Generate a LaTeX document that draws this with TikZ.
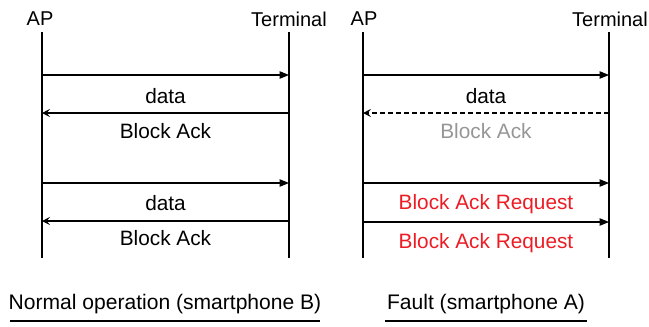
\documentclass[tikz,border=0pt]{standalone}
\usepackage{fontspec}
\setmainfont{Liberation Sans}
\usetikzlibrary{arrows.meta}
\definecolor{faultred}{RGB}{237,28,36}
\definecolor{lostgray}{RGB}{150,150,150}
\begin{document}
\begin{tikzpicture}[x=0.75pt,y=-0.75pt,
  head/.style={font=\fontsize{15}{18}\selectfont, inner sep=0pt},
  lbl/.style={font=\fontsize{15.6}{18}\selectfont, inner sep=0pt},
  life/.style={line width=0.8pt},
  msgr/.style={line width=0.8pt,-{Triangle[length=7pt,width=5.5pt]}},
  msgl/.style={line width=0.8pt,-{Stealth[length=6pt,width=6pt,inset=2.5pt]}},
  lost/.style={msgl,dashed,dash pattern=on 4pt off 2pt,line width=1pt},
  captext/.style={font=\fontsize{15.8}{18}\selectfont,inner sep=0pt}]
\useasboundingbox (0,0) rectangle (649,326);
% headers
\node[head] (ap1) at (40,19) {AP};
\node[head] (te1) at (289,19) {Terminal};
\node[head] (ap2) at (364,19) {AP};
\node[head] (te2) at (610,19) {Terminal};
% lifelines
\coordinate (a1t) at (42,32); \coordinate (a1b) at (42,258);
\coordinate (t1t) at (289,32); \coordinate (t1b) at (289,258);
\coordinate (a2t) at (363,32); \coordinate (a2b) at (363,258);
\coordinate (t2t) at (609,32); \coordinate (t2b) at (609,258);
\draw[life] (a1t) -- (a1b);
\draw[life] (t1t) -- (t1b);
\draw[life] (a2t) -- (a2b);
\draw[life] (t2t) -- (t2b);
% left messages
\coordinate (l1a) at (42,75);  \coordinate (l1t) at (289,75);
\coordinate (l2a) at (42,113); \coordinate (l2t) at (289,113);
\coordinate (l3a) at (42,183); \coordinate (l3t) at (289,183);
\coordinate (l4a) at (42,221); \coordinate (l4t) at (289,221);
\draw[msgr] (l1a) -- (l1t);
\draw[msgl] (l2t) -- (l2a);
\draw[msgr] (l3a) -- (l3t);
\draw[msgl] (l4t) -- (l4a);
\node[lbl] (d1) at (165.5,96) {data};
\node[lbl] (b1) at (165.5,131) {Block Ack};
\node[lbl] (d2) at (165.5,203) {data};
\node[lbl] (b2) at (165.5,238) {Block Ack};
% right messages
\coordinate (r1a) at (363,75);  \coordinate (r1t) at (609,75);
\coordinate (r2a) at (363,113); \coordinate (r2t) at (609,113);
\coordinate (r3a) at (363,183); \coordinate (r3t) at (609,183);
\coordinate (r4a) at (363,222); \coordinate (r4t) at (609,222);
\draw[msgr] (r1a) -- (r1t);
\draw[lost] (r2t) -- (r2a);
\draw[msgr] (r3a) -- (r3t);
\draw[msgr] (r4a) -- (r4t);
\node[lbl] (d3) at (486,96) {data};
\node[lbl,text=lostgray] (b3) at (486,131) {Block Ack};
\node[lbl,text=faultred] (q1) at (486,204) {Block Ack Request};
\node[lbl,text=faultred] (q2) at (486,243.5) {Block Ack Request};
% captions
\node[captext] (c1) at (165,304.5) {Normal operation (smartphone B)};
\node[captext] (c2) at (486,304.5) {Fault (smartphone A)};
\coordinate (u1a) at (10,321); \coordinate (u1b) at (320,321);
\coordinate (u2a) at (385,321); \coordinate (u2b) at (587,321);
\draw[line width=0.8pt] (u1a) -- (u1b);
\draw[line width=0.8pt] (u2a) -- (u2b);
\end{tikzpicture}
\end{document}
